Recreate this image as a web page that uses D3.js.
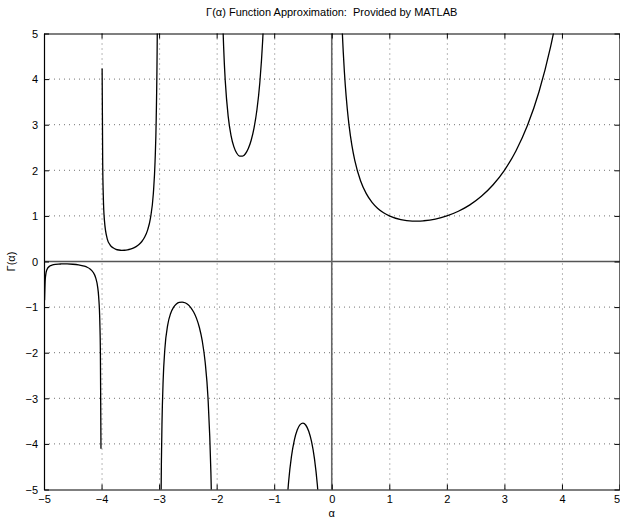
<!DOCTYPE html>
<html>
<head>
<meta charset="utf-8">
<script src="https://cdn.jsdelivr.net/npm/d3@7"></script>
<style>
  body { margin: 0; background: #fff; }
  text { font-family: "Liberation Sans", Arial, Helvetica, sans-serif; fill: #000; }
</style>
</head>
<body>
<svg id="chart" width="620" height="518"></svg>
<script>
// tick values on both axes
var xTicks = [-5, -4, -3, -2, -1, 0, 1, 2, 3, 4, 5];
var yTicks = [-5, -4, -3, -2, -1, 0, 1, 2, 3, 4, 5];

// curve pieces, one per interval between the poles: [alpha, gamma]
var branch5 = [[-4.99,-0.848],[-4.98,-0.431],[-4.97,-0.293],[-4.95,-0.182],[-4.9,-0.100],[-4.85,-0.074],
  [-4.8,-0.062],[-4.75,-0.056],[-4.7,-0.054],[-4.65,-0.053],[-4.6,-0.054],[-4.5,-0.060],[-4.4,-0.074],
  [-4.3,-0.102],[-4.25,-0.126],[-4.2,-0.164],[-4.15,-0.230],[-4.1,-0.364],[-4.07,-0.540],[-4.05,-0.776],
  [-4.03,-1.329],[-4.02,-2.023],[-4.01,-4.105]];
var branch4 = [[-3.99,4.231],[-3.98,2.148],[-3.97,1.455],[-3.95,0.902],[-3.9,0.492],[-3.85,0.361],
  [-3.8,0.300],[-3.75,0.268],[-3.7,0.252],[-3.65,0.245],[-3.6,0.247],[-3.55,0.255],[-3.5,0.270],
  [-3.45,0.293],[-3.4,0.326],[-3.35,0.372],[-3.3,0.439],[-3.25,0.536],[-3.2,0.689],[-3.15,0.952],
  [-3.1,1.492],[-3.07,2.197],[-3.05,3.143],[-3.03,5.358],[-3.02,8.13]];
var branch3 = [[-2.97,-5.777],[-2.96,-4.392],[-2.95,-3.563],[-2.93,-2.619],[-2.9,-1.919],[-2.85,-1.388],
  [-2.8,-1.139],[-2.75,-1.005],[-2.7,-0.931],[-2.65,-0.896],[-2.6,-0.889],[-2.55,-0.905],[-2.5,-0.945],
  [-2.45,-1.011],[-2.4,-1.108],[-2.35,-1.247],[-2.3,-1.447],[-2.25,-1.743],[-2.2,-2.205],[-2.15,-3.000],
  [-2.1,-4.626],[-2.09,-5.173],[-2.08,-5.860],[-2.05,-9.584]];
var branch2 = [[-1.92,6.79],[-1.9,5.564],[-1.87,4.443],[-1.85,3.956],[-1.8,3.188],[-1.75,2.762],
  [-1.7,2.514],[-1.65,2.374],[-1.6,2.311],[-1.55,2.309],[-1.5,2.363],[-1.45,2.477],[-1.4,2.659],
  [-1.35,2.931],[-1.3,3.328],[-1.25,3.921],[-1.2,4.851],[-1.18,5.379],[-1.15,6.449],[-1.1,9.715]];
var branch1 = [[-0.8,-5.739],[-0.77,-5.143],[-0.75,-4.834],[-0.7,-4.274],[-0.65,-3.917],[-0.6,-3.697],
  [-0.55,-3.578],[-0.5,-3.545],[-0.45,-3.591],[-0.4,-3.723],[-0.35,-3.957],[-0.3,-4.327],[-0.25,-4.902],
  [-0.22,-5.397],[-0.2,-5.821]];
var branch0 = [[0.1,9.514],[0.15,6.22],[0.17,5.453],[0.18,5.134],[0.19,4.848],[0.2,4.591],[0.22,4.150],
  [0.25,3.626],[0.27,3.343],[0.3,2.992],[0.35,2.546],[0.4,2.218],[0.5,1.772],[0.6,1.489],[0.7,1.298],
  [0.8,1.164],[0.9,1.069],[1.0,1.0],[1.2,0.918],[1.4,0.887],[1.5,0.886],[1.6,0.894],[1.8,0.931],
  [2.0,1.0],[2.2,1.102],[2.4,1.242],[2.6,1.430],[2.8,1.677],[3.0,2.0],[3.2,2.424],[3.4,2.981],
  [3.6,3.717],[3.8,4.694],[3.9,5.299]];

var branches = [branch5, branch4, branch3, branch2, branch1, branch0];

var svg = d3.select("#chart");
var box = {"left": 44, "right": 619.5, "top": 33.5, "bottom": 489.5};

var x = d3.scaleLinear().domain([-5, 5]).range([box.left, box.right]);
var y = d3.scaleLinear().domain([-5, 5]).range([box.bottom, box.top]);

var minus = function(v) { return v < 0 ? "\u2212" + Math.abs(v) : "" + v; };

svg.append("clipPath").attr("id", "plotClip")
  .append("rect")
    .attr("x", box.left)
    .attr("y", box.top)
    .attr("width", box.right - box.left)
    .attr("height", box.bottom - box.top);

// dotted grid
var grid = svg.append("g").attr("class", "grid");
grid.selectAll("line.gx").data(xTicks.slice(1, -1)).enter().append("line")
  .attr("x1", d => x(d) + 0.5).attr("x2", d => x(d) + 0.5)
  .attr("y1", box.top).attr("y2", box.bottom)
  .attr("stroke", "#000").attr("stroke-width", 1)
  .attr("stroke-dasharray", "1,4").attr("opacity", 0.55);
grid.selectAll("line.gy").data(yTicks.slice(1, -1)).enter().append("line")
  .attr("y1", d => y(d)).attr("y2", d => y(d))
  .attr("x1", box.left).attr("x2", box.right)
  .attr("stroke", "#000").attr("stroke-width", 1)
  .attr("stroke-dasharray", "1,4").attr("opacity", 0.55);

// zero lines
svg.append("line")
  .attr("x1", x(-5)).attr("x2", x(5)).attr("y1", y(0)).attr("y2", y(0))
  .attr("stroke", "#555").attr("stroke-width", 1.6);
svg.append("line")
  .attr("x1", x(0)).attr("x2", x(0)).attr("y1", y(-5)).attr("y2", y(5))
  .attr("stroke", "#666").attr("stroke-width", 1.6);

// curves
var line = d3.line()
  .x(d => x(d[0]))
  .y(d => y(d[1]))
  .curve(d3.curveMonotoneX);

svg.append("g").attr("clip-path", "url(#plotClip)")
  .selectAll("path").data(branches).enter().append("path")
    .attr("d", line)
    .attr("fill", "none")
    .attr("stroke", "#000")
    .attr("stroke-width", 1.3);

// axes box with inward ticks on all four sides
var tickLen = 5;
var axisBottom = d3.axisBottom(x).tickValues(xTicks).tickSizeInner(-tickLen).tickSizeOuter(0).tickPadding(tickLen + 4).tickFormat(minus);
var axisLeft = d3.axisLeft(y).tickValues(yTicks).tickSizeInner(-tickLen).tickSizeOuter(0).tickPadding(tickLen + 4).tickFormat(minus);
var axisTop = d3.axisTop(x).tickValues(xTicks).tickSizeInner(-tickLen).tickSizeOuter(0).tickFormat("");
var axisRight = d3.axisRight(y).tickValues(yTicks).tickSizeInner(-tickLen).tickSizeOuter(0).tickFormat("");

var gb = svg.append("g").attr("transform", "translate(0," + box.bottom + ")").call(axisBottom);
var gl = svg.append("g").attr("transform", "translate(" + box.left + ",0)").call(axisLeft);
svg.append("g").attr("transform", "translate(0," + box.top + ")").call(axisTop);
svg.append("g").attr("transform", "translate(" + box.right + ",0)").call(axisRight);

svg.selectAll(".domain").attr("stroke", "#000").attr("stroke-width", 1.2);
svg.selectAll(".tick line").attr("stroke", "#000");
svg.selectAll(".tick text").attr("font-size", 11).attr("font-family", "Liberation Sans, Arial, sans-serif").attr("fill", "#000");
gl.selectAll(".tick text").attr("x", -6).attr("dy", "0.35em");
gb.selectAll(".tick text").attr("y", 6).attr("dy", "0.71em");
// last x label sits on the window edge; pull it in so it stays readable
gb.selectAll(".tick text").filter(d => d === 5).attr("text-anchor", "end").attr("x", 0);

// labels
svg.append("text")
  .attr("x", (box.left + box.right) / 2)
  .attr("y", 16)
  .attr("text-anchor", "middle")
  .attr("font-size", 11)
  .style("white-space", "pre")
  .text("\u0393(\u03b1) Function Approximation:  Provided by MATLAB");

svg.append("text")
  .attr("x", (box.left + box.right) / 2)
  .attr("y", 517)
  .attr("text-anchor", "middle")
  .attr("font-size", 11)
  .text("\u03b1");

svg.append("text")
  .attr("transform", "translate(15," + y(0) + ") rotate(-90)")
  .attr("text-anchor", "middle")
  .attr("font-size", 11)
  .text("\u0393(\u03b1)");
</script>
</body>
</html>
